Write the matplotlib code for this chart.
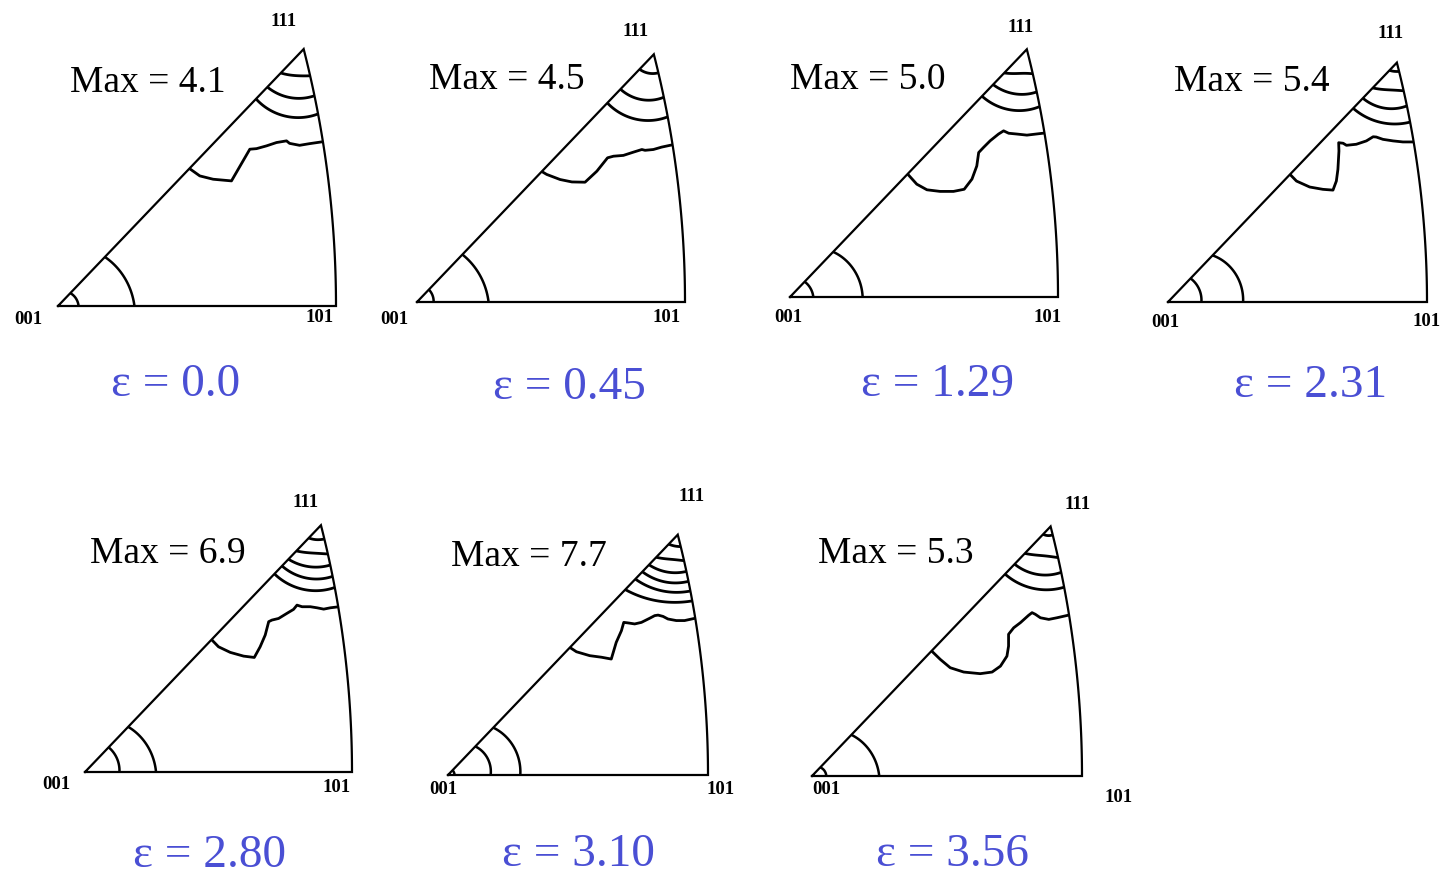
import numpy as np
import matplotlib
matplotlib.use('Agg')
from matplotlib import pyplot as plt
from matplotlib.patches import Polygon

plt.rcParams['font.family'] = ['Liberation Serif', 'DejaVu Serif']

max_values = ['4.1', '4.5', '5.0', '5.4', '6.9', '7.7', '5.3']
strains = ['0.0', '0.45', '1.29', '2.31', '2.80', '3.10', '3.56']

# contour radii round 001: (on 001-101 edge, halfway, on 001-111 edge)
arcs_001 = [
    [(0.074, 0.070, 0.064), (0.275, 0.260, 0.244)],
    [(0.062, 0.063, 0.064), (0.267, 0.255, 0.245)],
    [(0.087, 0.083, 0.079), (0.271, 0.259, 0.233)],
    [(0.129, 0.130, 0.126), (0.290, 0.282, 0.249)],
    [(0.129, 0.130, 0.128), (0.266, 0.253, 0.234)],
    [(0.025, 0.025, 0.025), (0.164, 0.165, 0.152), (0.278, 0.275, 0.252)],
    [(0.053, 0.050, 0.044), (0.249, 0.234, 0.211)],
]

# contour radii round 111: (on 001-111 edge, middle, on 111-101 edge)
arcs_111 = [
    [(0.119, 0.099, 0.099), (0.189, 0.181, 0.172), (0.248, 0.250, 0.238)],
    [(0.077, 0.073, 0.071), (0.180, 0.175, 0.164), (0.251, 0.251, 0.238)],
    [(0.122, 0.093, 0.094), (0.182, 0.172, 0.163), (0.242, 0.234, 0.218)],
    [(0.041, 0.035, 0.035), (0.135, 0.109, 0.112), (0.190, 0.182, 0.171), (0.244, 0.239, 0.235)],
    [(0.066, 0.056, 0.053), (0.133, 0.108, 0.111), (0.176, 0.161, 0.153), (0.211, 0.205, 0.196),
     (0.252, 0.249, 0.238)],
    [(0.050, 0.045, 0.047), (0.120, 0.098, 0.103), (0.160, 0.149, 0.145), (0.197, 0.188, 0.184),
     (0.236, 0.224, 0.222), (0.292, 0.265, 0.261)],
    [(0.040, 0.035, 0.032), (0.138, 0.112, 0.119), (0.193, 0.184, 0.174), (0.244, 0.238, 0.230)],
]

# the irregular middle contour of each figure
mid_x = [
    [0.468, 0.510, 0.558, 0.624, 0.690, 0.714, 0.750, 0.786, 0.822, 0.833, 0.869, 0.905, 0.96],
    [0.457, 0.484, 0.534, 0.578, 0.627, 0.671, 0.711, 0.733, 0.770, 0.807, 0.839, 0.851, 0.882, 0.913, 0.96],
    [0.436, 0.473, 0.511, 0.560, 0.610, 0.650, 0.679, 0.697, 0.704, 0.722, 0.747, 0.778, 0.797, 0.816,
     0.847, 0.884, 0.96],
    [0.467, 0.496, 0.547, 0.598, 0.637, 0.650, 0.656, 0.660, 0.659, 0.676, 0.689, 0.727, 0.766, 0.792,
     0.804, 0.830, 0.869, 0.907, 0.96],
    [0.470, 0.500, 0.544, 0.594, 0.634, 0.656, 0.675, 0.688, 0.700, 0.725, 0.756, 0.781, 0.794, 0.813,
     0.844, 0.869, 0.894, 0.919, 0.96],
    [0.465, 0.494, 0.545, 0.590, 0.628, 0.647, 0.667, 0.676, 0.692, 0.718, 0.744, 0.776, 0.795, 0.808,
     0.827, 0.846, 0.878, 0.910, 0.96],
    [0.440, 0.475, 0.512, 0.562, 0.623, 0.667, 0.698, 0.722, 0.728, 0.728, 0.747, 0.772, 0.802, 0.815,
     0.827, 0.846, 0.877, 0.907, 0.96],
]
mid_y = [
    [0.498, 0.468, 0.456, 0.450, 0.564, 0.566, 0.576, 0.588, 0.594, 0.585, 0.578, 0.584, 0.592],
    [0.492, 0.476, 0.457, 0.448, 0.447, 0.488, 0.538, 0.544, 0.547, 0.559, 0.569, 0.566, 0.569, 0.578, 0.588],
    [0.462, 0.421, 0.400, 0.394, 0.394, 0.402, 0.440, 0.489, 0.539, 0.558, 0.583, 0.608, 0.620, 0.611,
     0.608, 0.604, 0.613],
    [0.497, 0.467, 0.444, 0.435, 0.432, 0.467, 0.512, 0.583, 0.615, 0.613, 0.605, 0.609, 0.622, 0.638,
     0.637, 0.628, 0.622, 0.618, 0.618],
    [0.500, 0.469, 0.448, 0.434, 0.429, 0.469, 0.513, 0.563, 0.569, 0.575, 0.594, 0.609, 0.625, 0.619,
     0.619, 0.615, 0.610, 0.615, 0.620],
    [0.493, 0.474, 0.459, 0.453, 0.446, 0.510, 0.555, 0.587, 0.585, 0.581, 0.587, 0.603, 0.613, 0.615,
     0.610, 0.600, 0.594, 0.594, 0.605],
    [0.466, 0.432, 0.401, 0.385, 0.379, 0.385, 0.407, 0.444, 0.481, 0.525, 0.549, 0.568, 0.595, 0.605,
     0.599, 0.586, 0.580, 0.586, 0.598],
]

# layout in pixels: 001 corner and width of each triangle
origins = [(58, 307), (417, 303), (790, 298), (1168, 303), (85, 773), (448, 776), (812, 777)]
widths = [278, 268, 268, 259, 267, 260, 270]
lab001 = [(28, 320), (394, 320), (788, 318), (1165, 323), (56, 785), (443, 790), (826, 790)]
lab101 = [(320, 318), (667, 318), (1048, 318), (1427, 322), (337, 788), (721, 790), (1119, 798)]
lab111 = [(284, 21), (636, 32), (1021, 27), (1391, 34), (306, 503), (692, 497), (1078, 505)]
max_pos = [(70, 83), (429, 80), (790, 80), (1174, 82), (90, 554), (451, 557), (818, 554)]
eps_pos = [(176, 385), (569, 388), (938, 385), (1311, 386), (210, 856), (578, 855), (952, 855)]

W_FIG, H_FIG = 1450, 878
YS = 1.046  # vertical stretch of the scanned triangles
T = np.tan(np.pi / 8)


def right_edge(n=60):
    ys = np.linspace(0, 0.366, n)
    xs = (-1 + np.sqrt(2 - ys ** 2)) / T
    return xs, ys / T * YS


ex, ey = right_edge()
apex = (ex[-1], ey[-1])
tri_x = np.concatenate([[0], ex, [0]])
tri_y = np.concatenate([[0], ey, [0]])


def quad_r(r3, a0, a1, ang):
    am = (a0 + a1) / 2
    c = np.polyfit([a0, am, a1], r3, 2)
    return np.polyval(c, ang)


fig = plt.figure(figsize=(14.5, 8.78), dpi=100)
bg = fig.add_axes([0, 0, 1, 1])
bg.set_xlim(0, W_FIG)
bg.set_ylim(H_FIG, 0)
bg.axis('off')

diag_ang = np.arctan2(apex[1], apex[0])
left_ang = np.arctan2(-apex[1], -apex[0])
right_ang = np.radians(-76)

for i in range(7):
    ox, oy = origins[i]
    w = widths[i]
    ax = fig.add_axes([(ox - 0.1 * w) / W_FIG, (H_FIG - oy - 0.1 * w) / H_FIG,
                       1.2 * w / W_FIG, 1.15 * w / H_FIG])
    ax.set_xlim(-0.1, 1.1)
    ax.set_ylim(-0.1, 1.05)
    ax.axis('off')
    ax.patch.set_alpha(0)

    clip = Polygon(np.column_stack([tri_x, tri_y]), closed=True, fc='none', ec='none',
                   transform=ax.transData)
    ax.add_patch(clip)

    for r3 in arcs_001[i]:
        th = np.linspace(-0.1, diag_ang + 0.15, 120)
        r = quad_r(r3, 0, diag_ang, th)
        ln, = ax.plot(r * np.cos(th), r * np.sin(th), color='black', lw=1.8)
        ln.set_clip_path(clip)

    for r3 in arcs_111[i]:
        ph = np.linspace(left_ang - 0.12, right_ang + 0.2, 120)
        r = quad_r(r3, left_ang, right_ang, ph)
        ln, = ax.plot(apex[0] + r * np.cos(ph), apex[1] + r * np.sin(ph), color='black', lw=2.0)
        ln.set_clip_path(clip)

    ln, = ax.plot(mid_x[i], mid_y[i], color='black', lw=2.0)
    ln.set_clip_path(clip)

    ax.plot(tri_x, tri_y, color='black', lw=1.6, solid_joinstyle='miter')

    bg.text(*lab001[i], '001', fontsize=13.5, fontweight='bold', ha='center', va='center')
    bg.text(*lab101[i], '101', fontsize=13.5, fontweight='bold', ha='center', va='center')
    bg.text(*lab111[i], '111', fontsize=13.5, fontweight='bold', ha='center', va='center')
    bg.text(*max_pos[i], 'Max = ' + max_values[i], fontsize=27, ha='left', va='center')
    bg.text(*eps_pos[i], 'ε = ' + strains[i], fontsize=34, ha='center', va='center',
            color='#4a4fd4')

fig.savefig('out.png', dpi=100)
